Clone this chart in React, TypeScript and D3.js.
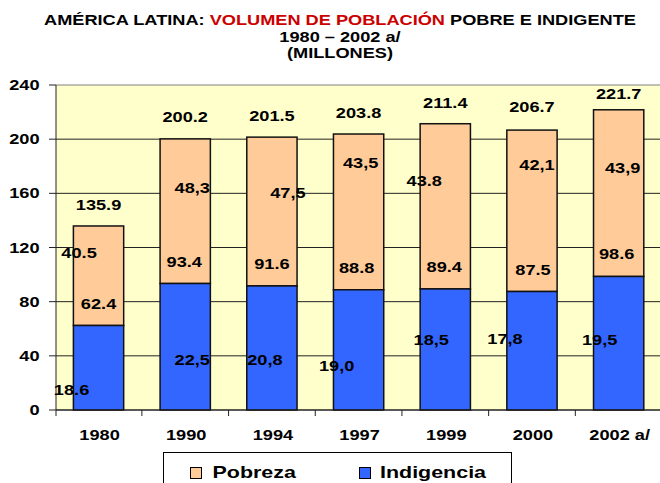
import React from "react";
import * as d3 from "d3";

// ---- data ----
const years = ["1980", "1990", "1994", "1997", "1999", "2000", "2002 a/"];
const indigencia = [62.4, 93.4, 91.6, 88.8, 89.4, 87.5, 98.6];
const total = [135.9, 200.2, 201.5, 203.8, 211.4, 206.7, 221.7];
const pobrezaPctLabels = ["40.5", "48,3", "47,5", "43,5", "43.8", "42,1", "43,9"];
const indigenciaPctLabels = ["18.6", "22,5", "20,8", "19,0", "18,5", "17,8", "19,5"];
const yTicks = [0, 40, 80, 120, 160, 200, 240];
const seriesNames = ["Pobreza", "Indigencia"];

// ---- layout (label placement nudges, separate from data) ----
const totalLabelDy = [-21, -22, -21, -21, -21, -23, -16];
const indigLabelDx = [0, -1, 0, -2, -1, 1, -2];
const povPctAtValue = [116.2, 163.9, 160.2, 182.4, 169.3, 180.9, 178.7];
const povPctDx = [-19.5, 7, 16, 2, -21, 5, 4];
const indPctAtValue = [14.8, 36.9, 36.9, 32.7, 51.7, 52.4, 51.7];
const indPctDx = [-27, 7, -7, -22, -14, -27, -19];

const W = 660;
const H = 483;
const SX = 1.3;
const FONT = "'Liberation Sans', Arial, Helvetica, sans-serif";
const COL_POB = "#FFCC99";
const COL_IND = "#3366FF";
const BG = "#FFFFCC";

function T({ x, y, size = 14, anchor = "middle", fill = "#000", children }: any) {
  return (
    <text
      transform={`translate(${x},${y}) scale(${SX},1)`}
      textAnchor={anchor}
      fontFamily={FONT}
      fontWeight="bold"
      fontSize={size}
      fill={fill}
    >
      {children}
    </text>
  );
}

export default function App() {
  const x = d3
    .scaleBand<string>()
    .domain(years)
    .range([55.2, 662])
    .paddingInner(0.42)
    .paddingOuter(0.21);
  const y = d3.scaleLinear().domain([0, 240]).range([410, 85]);
  const left = 56;
  const right = W;
  const bw = x.bandwidth();
  const step = x.step();
  const cx = (i: number) => (x(years[i]) as number) + bw / 2;
  const boundaries = d3.range(years.length + 1).map((i) => 55.2 + i * step);

  return (
    <svg
      width={W}
      height={H}
      style={{ position: "fixed", left: 0, top: 0, background: "#fff" }}
    >
      {/* title */}
      <text x={340} y={25.5} textAnchor="middle" fontFamily={FONT} fontWeight="bold" fontSize={14}
        transform={`translate(340,0) scale(${SX},1) translate(-340,0)`}>
        <tspan fill="#000">AMÉRICA LATINA: </tspan>
        <tspan fill="#CC0000">VOLUMEN DE POBLACIÓN</tspan>
        <tspan fill="#000"> POBRE E INDIGENTE</tspan>
      </text>
      <T x={340} y={42.3}>1980 – 2002 a/</T>
      <T x={340} y={58}>(MILLONES)</T>

      {/* plot background */}
      <rect x={left} y={y(240)} width={right - left} height={y(0) - y(240)} fill={BG} />
      {/* gridlines */}
      {yTicks.map((t) => (
        <line key={t} x1={left} x2={right} y1={y(t)} y2={y(t)}
          stroke={t === 240 ? "#808080" : "#222"} strokeWidth={1} />
      ))}

      {/* bars */}
      {years.map((yr, i) => (
        <g key={yr}>
          <rect x={x(yr)} y={y(total[i])} width={bw} height={y(indigencia[i]) - y(total[i])}
            fill={COL_POB} stroke="#111" strokeWidth={1.5} />
          <rect x={x(yr)} y={y(indigencia[i])} width={bw} height={y(0) - y(indigencia[i])}
            fill={COL_IND} stroke="#111" strokeWidth={1.5} />
        </g>
      ))}

      {/* axes */}
      <line x1={left} x2={left} y1={y(240)} y2={y(0)} stroke="#222" strokeWidth={1} />
      <line x1={left} x2={right} y1={y(0)} y2={y(0)} stroke="#222" strokeWidth={1.2} />
      {yTicks.map((t) => (
        <g key={"yt" + t}>
          <line x1={left - 7} x2={left} y1={y(t)} y2={y(t)} stroke="#222" />
          <T x={39.5} y={y(t) + 5} anchor="end">{String(t)}</T>
        </g>
      ))}
      {boundaries.map((b, i) => (
        <line key={"xt" + i} x1={i === 0 ? left : b} x2={i === 0 ? left : b}
          y1={y(0)} y2={y(0) + 6} stroke="#222" />
      ))}
      {years.map((yr, i) => (
        <T key={"xl" + yr} x={cx(i) + 1} y={440}>{yr}</T>
      ))}

      {/* value labels */}
      {years.map((yr, i) => (
        <g key={"lab" + yr}>
          <T x={cx(i)} y={y(total[i]) + totalLabelDy[i] + 5}>{total[i].toFixed(1)}</T>
          <T x={cx(i) + indigLabelDx[i]} y={y(indigencia[i]) - 22 + 5}>{indigencia[i].toFixed(1)}</T>
          <T x={cx(i) + povPctDx[i]} y={y(povPctAtValue[i]) + 5}>{pobrezaPctLabels[i]}</T>
          <T x={cx(i) + indPctDx[i]} y={y(indPctAtValue[i]) + 5}>{indigenciaPctLabels[i]}</T>
        </g>
      ))}

      {/* legend */}
      <rect x={163.5} y={452.5} width={348} height={40} fill="#fff" stroke="#000" strokeWidth={1} />
      <rect x={190.5} y={467.5} width={11} height={11} fill={COL_POB} stroke="#000" strokeWidth={1} />
      <T x={212.5} y={477.5} size={16.5} anchor="start">{seriesNames[0]}</T>
      <rect x={359.5} y={467.5} width={11} height={11} fill={COL_IND} stroke="#000" strokeWidth={1} />
      <T x={380} y={477.5} size={16.5} anchor="start">{seriesNames[1]}</T>
    </svg>
  );
}
